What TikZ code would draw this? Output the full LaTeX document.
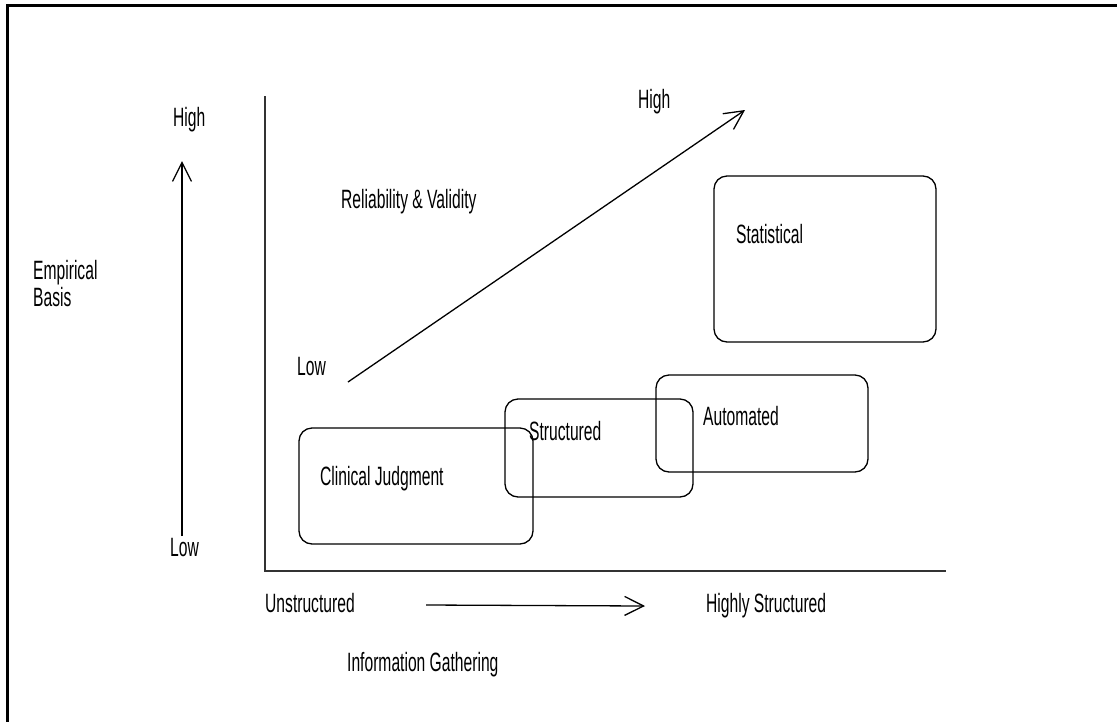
\documentclass[tikz,border=0pt]{standalone}
\usepackage{fontspec}
\newfontfamily\narrowfont[FakeStretch=0.59]{Liberation Sans}
\usetikzlibrary{arrows.meta}
\begin{document}
\begin{tikzpicture}[x=1pt,y=-1pt,
  lbl/.style={font=\narrowfont\fontsize{26.5}{28}\selectfont, inner sep=0pt, anchor=base west, align=left},
  cbox/.style={draw=black, line width=1.3pt, rounded corners=13pt, inner sep=0pt},
  axisline/.style={draw=black!80, line width=2pt},
  arr/.style={draw=black, line width=1.3pt, -{Straight Barb[length=19pt,width=19pt,line width=1.3pt]}},
  frameline/.style={draw=black, line width=3pt}
]
\useasboundingbox (0,0) rectangle (1117,721);
% outer frame (only top and left edges visible)
\coordinate (fbl) at (7.5,722);
\coordinate (ftl) at (7.5,5.5);
\coordinate (ftr) at (1118,5.5);
\draw[frameline] (fbl) -- (ftl) -- (ftr);

% axes
\coordinate (ytop) at (265,96);
\coordinate (orig) at (265,571);
\coordinate (xend) at (946,571);
\draw[axisline] (ytop) -- (orig) -- (xend);

% vertical arrow
\coordinate (vb) at (182,536);
\coordinate (vt) at (182,161);
\draw[arr] (vb) -- (vt);

% horizontal arrow
\coordinate (hb) at (426,605);
\coordinate (ht) at (645,606);
\draw[arr] (hb) -- (ht);

% diagonal arrow
\coordinate (db) at (348,382);
\coordinate (dt) at (745,110);
\draw[arr] (db) -- (dt);

% boxes
\node[cbox, minimum width=234pt, minimum height=116pt] (cjbox) at (416,486) {};
\node[cbox, minimum width=188pt, minimum height=98pt] (stbox) at (599,448) {};
\node[cbox, minimum width=212pt, minimum height=97pt] (aubox) at (762,423.5) {};
\node[cbox, minimum width=222pt, minimum height=166pt] (sabox) at (825,259) {};

% labels
\node[lbl] (hiL) at (173,126) {High};
\node[lbl] (emp) at (33,279) {Empirical};
\node[lbl] (bas) at (33,306) {Basis};
\node[lbl] (loL) at (170,556) {Low};
\node[lbl] (uns) at (265,612) {Unstructured};
\node[lbl] (hst) at (706,612) {Highly Structured};
\node[lbl] (inf) at (347,671) {Information Gathering};
\node[lbl] (rel) at (341,208) {Reliability \& Validity};
\node[lbl] (hiT) at (638,108) {High};
\node[lbl] (loM) at (297,375) {Low};
\node[lbl] (cj) at (320,485) {Clinical Judgment};
\node[lbl] (st) at (529,440) {Structured};
\node[lbl] (au) at (703,425) {Automated};
\node[lbl] (sa) at (736,243) {Statistical};
\end{tikzpicture}
\end{document}
